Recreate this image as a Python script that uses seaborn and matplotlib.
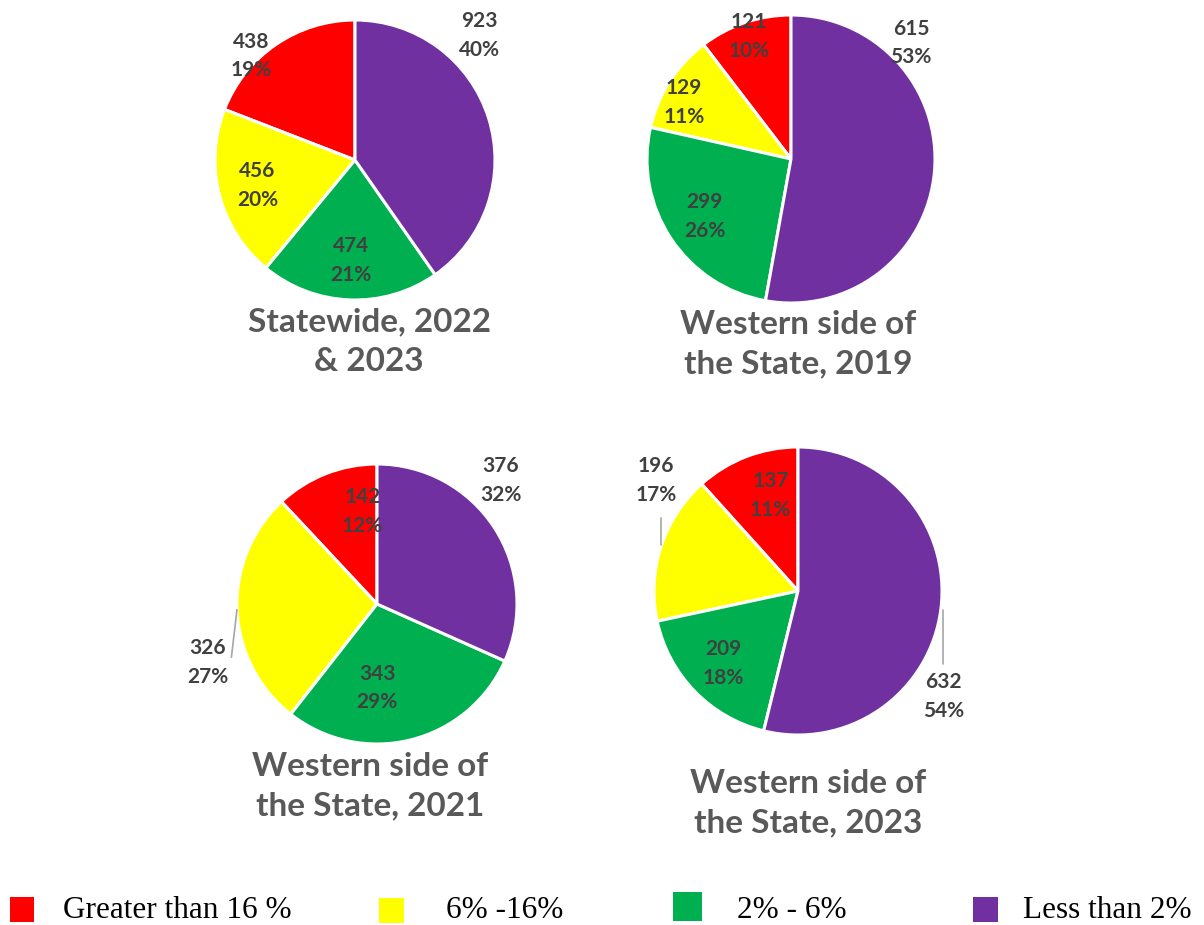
import numpy as np
import matplotlib
matplotlib.use("Agg")
import matplotlib.pyplot as plt
import seaborn as sns
from matplotlib.patches import Rectangle

# Data
categories = ["Greater than 16 %", "6% -16%", "2% - 6%", "Less than 2%"]
statewide_22_23 = [438, 456, 474, 923]
statewide_pct = [19, 20, 21, 40]
western_2019 = [121, 129, 299, 615]
western_2019_pct = [10, 11, 26, 53]
western_2021 = [142, 326, 343, 376]
western_2021_pct = [12, 27, 29, 32]
western_2023 = [137, 196, 209, 632]
western_2023_pct = [11, 17, 18, 54]
titles = ["Statewide, 2022\n& 2023", "Western side of\nthe State, 2019",
          "Western side of\nthe State, 2021", "Western side of\nthe State, 2023"]

sns.set_theme(style="white")
plt.rcParams['font.family'] = ['Lato', 'DejaVu Sans']

colors = ["#FF0000", "#FFFF00", "#00B050", "#7030A0"]
label_color = "#404040"
title_color = "#595959"

W, H = 1204, 925
fig = plt.figure(figsize=(W / 100, H / 100), dpi=100)

# layout (pixels): pie center x, y, radius, title center x, y
layout = [
    (355, 160, 140, 369, 342),
    (791, 159, 144, 798, 344),
    (377, 604, 140, 370, 786),
    (798, 591, 144, 808, 803),
]
# label spots: None -> middle of wedge at 0.72 radius, else (angle deg, dist)
label_spots = [
    [(135, 1.05), None, None, (45, 1.26)],
    [(109, 0.90), (152, 0.84), None, (44, 1.16)],
    [(99, 0.67), (199, 1.28), (270, 0.60), (45, 1.25)],
    [(106, 0.69), (142, 1.25), None, (324, 1.25)],
]
leaders = [
    [],
    [],
    [((-1.0, -0.04), (-1.04, -0.38))],
    [((-0.95, 0.51), (-0.95, 0.32)), ((1.007, -0.13), (1.007, -0.51))],
]

all_data = [statewide_22_23, western_2019, western_2021, western_2023]
all_pct = [statewide_pct, western_2019_pct, western_2021_pct, western_2023_pct]

for i, vals in enumerate(all_data):
    cx, cy, r, tx, ty = layout[i]
    ax = fig.add_axes([(cx - r) / W, 1 - (cy + r) / H, 2 * r / W, 2 * r / H])
    wedges, _ = ax.pie(vals, colors=colors, startangle=90, counterclock=True,
                       radius=1, wedgeprops=dict(edgecolor="white", linewidth=2.2))
    ax.set_xlim(-1, 1)
    ax.set_ylim(-1, 1)
    ax.set_aspect("equal")
    ax.axis("off")
    for j, w in enumerate(wedges):
        spot = label_spots[i][j]
        if spot is None:
            ang = np.deg2rad((w.theta1 + w.theta2) / 2)
            dist = 0.72
        else:
            ang = np.deg2rad(spot[0])
            dist = spot[1]
        ax.text(dist * np.cos(ang), dist * np.sin(ang), f"{vals[j]}\n{all_pct[i][j]}%",
                ha="center", va="center", fontsize=15, fontweight="bold",
                color=label_color, linespacing=1.55)
    for (x0, y0), (x1, y1) in leaders[i]:
        ax.plot([x0, x1], [y0, y1], color="#A6A6A6", lw=1.2, clip_on=False)
    fig.text(tx / W, 1 - ty / H, titles[i], ha="center", va="center",
             fontsize=24, fontweight="bold", color=title_color, linespacing=1.45)

# legend along the bottom
legend_sq = [(10, 897, 24, 25), (379, 898, 25, 25), (673, 892, 29, 29), (973, 897, 25, 25)]
legend_tx = [63, 446, 737, 1023]
for k, cat in enumerate(categories):
    x, y, w, h = legend_sq[k]
    fig.patches.append(Rectangle((x / W, 1 - (y + h) / H), w / W, h / H,
                                 transform=fig.transFigure, facecolor=colors[k],
                                 edgecolor="none"))
    fig.text(legend_tx[k] / W, 1 - 910 / H, cat, ha="left", va="center",
             fontsize=22.5, family=["Liberation Serif"], color="black")

fig.savefig("out.png", dpi=100, facecolor="white")
